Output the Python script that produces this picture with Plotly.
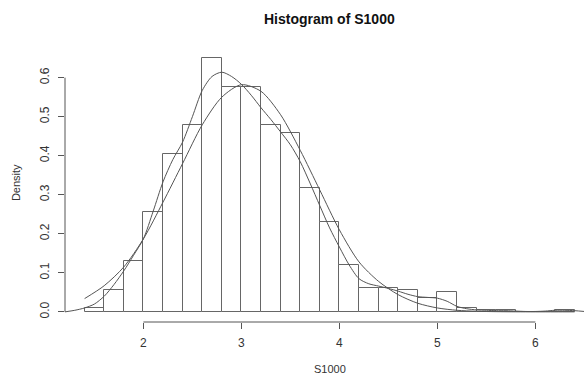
import plotly.graph_objects as go

# Histogram bins (width 0.2 starting at 1.4) and densities
bin_start = 1.4
bin_width = 0.2
densities = [0.010, 0.055, 0.130, 0.255, 0.405, 0.480, 0.650, 0.575, 0.575, 0.480,
             0.457, 0.317, 0.230, 0.120, 0.060, 0.060, 0.055, 0.035, 0.050, 0.010,
             0.005, 0.005, 0.0, 0.0, 0.005]

# Kernel density curve
kde_x = [1.2, 1.3, 1.4, 1.5, 1.6, 1.7, 1.8, 1.9, 2.0, 2.1, 2.2, 2.3, 2.4, 2.5, 2.6, 2.7,
         2.8, 2.9, 3.0, 3.1, 3.2, 3.3, 3.4, 3.5, 3.6, 3.7, 3.8, 3.9, 4.0, 4.1, 4.2, 4.3,
         4.4, 4.5, 4.6, 4.7, 4.8, 4.9, 5.0, 5.1, 5.2, 5.3, 5.4, 5.5, 5.6, 5.7, 5.8, 5.9,
         6.0, 6.1, 6.2, 6.3, 6.4, 6.5]
kde_y = [0.0, 0.004, 0.010, 0.020, 0.040, 0.070, 0.105, 0.145, 0.187, 0.258, 0.333, 0.390,
         0.435, 0.500, 0.567, 0.603, 0.614, 0.603, 0.583, 0.555, 0.523, 0.493, 0.461, 0.428,
         0.385, 0.330, 0.272, 0.215, 0.166, 0.120, 0.085, 0.072, 0.066, 0.060, 0.053, 0.045,
         0.039, 0.037, 0.035, 0.027, 0.014, 0.008, 0.005, 0.004, 0.003, 0.003, 0.002, 0.001,
         0.001, 0.002, 0.004, 0.004, 0.003, 0.001]

# Fitted normal-looking curve, drawn over data range
fit_x = [1.4, 1.6, 1.8, 2.0, 2.2, 2.4, 2.6, 2.8, 3.0, 3.2, 3.4, 3.6, 3.8, 4.0, 4.2,
         4.4, 4.6, 4.8, 5.0, 5.2, 5.4, 5.6, 5.8, 6.0, 6.2, 6.4]
fit_y = [0.034, 0.067, 0.115, 0.187, 0.281, 0.380, 0.479, 0.550, 0.582, 0.565, 0.505,
         0.414, 0.312, 0.210, 0.128, 0.078, 0.044, 0.022, 0.010, 0.004, 0.0015, 0.0005,
         0.0001, 0.0, 0.0, 0.0]

x_ticks = [2, 3, 4, 5, 6]
y_ticks = [0.0, 0.1, 0.2, 0.3, 0.4, 0.5, 0.6]
y_tick_text = ["0.0", "0.1", "0.2", "0.3", "0.4", "0.5", "0.6"]

centers = [bin_start + bin_width * (i + 0.5) for i in range(len(densities))]

line_col = "#555555"
text_col = "#333333"
font = "Liberation Sans, Arial, sans-serif"

fig = go.Figure()
fig.add_trace(go.Bar(x=centers, y=densities, width=bin_width,
                     marker=dict(color="white", line=dict(color="#666666", width=1)),
                     hoverinfo="skip"))
fig.add_trace(go.Scatter(x=kde_x, y=kde_y, mode="lines",
                         line=dict(color=line_col, width=1, shape="spline", smoothing=0.8)))
fig.add_trace(go.Scatter(x=fit_x, y=fit_y, mode="lines",
                         line=dict(color=line_col, width=1, shape="spline", smoothing=0.8)))

fig.update_layout(
    width=584, height=376,
    margin=dict(l=65, r=0, t=48, b=54),
    plot_bgcolor="white", paper_bgcolor="white",
    showlegend=False, bargap=0,
    font=dict(family=font, size=12, color=text_col),
    xaxis=dict(range=[1.2, 6.496], tickvals=x_ticks, ticktext=[str(v) for v in x_ticks],
               showgrid=False, zeroline=False, showline=False,
               ticks="outside", ticklen=6, tickcolor=line_col, tickwidth=1,
               ticklabelstandoff=4, tickfont=dict(size=12, color=text_col)),
    yaxis=dict(range=[-0.026, 0.676], tickvals=y_ticks, ticktext=y_tick_text,
               showgrid=False, zeroline=False, showline=False,
               ticks="outside", ticklen=6, tickcolor=line_col, tickwidth=1,
               tickangle=-90, ticklabelstandoff=4, tickfont=dict(size=12, color=text_col)),
    shapes=[
        dict(type="line", xref="x", yref="paper", x0=x_ticks[0], x1=x_ticks[-1], y0=0, y1=0,
             line=dict(color=line_col, width=1)),
        dict(type="line", xref="paper", yref="y", x0=0, x1=0, y0=y_ticks[0], y1=y_ticks[-1],
             line=dict(color=line_col, width=1)),
    ],
    annotations=[
        dict(text="<b>Histogram of S1000</b>", xref="x", yref="paper", x=3.9, y=1.106,
             showarrow=False, xanchor="center", yanchor="middle",
             font=dict(size=14, color="#111111")),
        dict(text="S1000", xref="x", yref="paper", x=3.9, y=-0.172,
             showarrow=False, xanchor="center", yanchor="middle",
             font=dict(size=11, color=text_col)),
        dict(text="Density", xref="paper", yref="paper", x=-0.0944, y=0.507, textangle=-90,
             showarrow=False, xanchor="center", yanchor="middle",
             font=dict(size=11, color=text_col)),
    ],
)

fig.write_html("out.html", config={"displayModeBar": False},
               post_script="document.body.style.margin='0px';")
